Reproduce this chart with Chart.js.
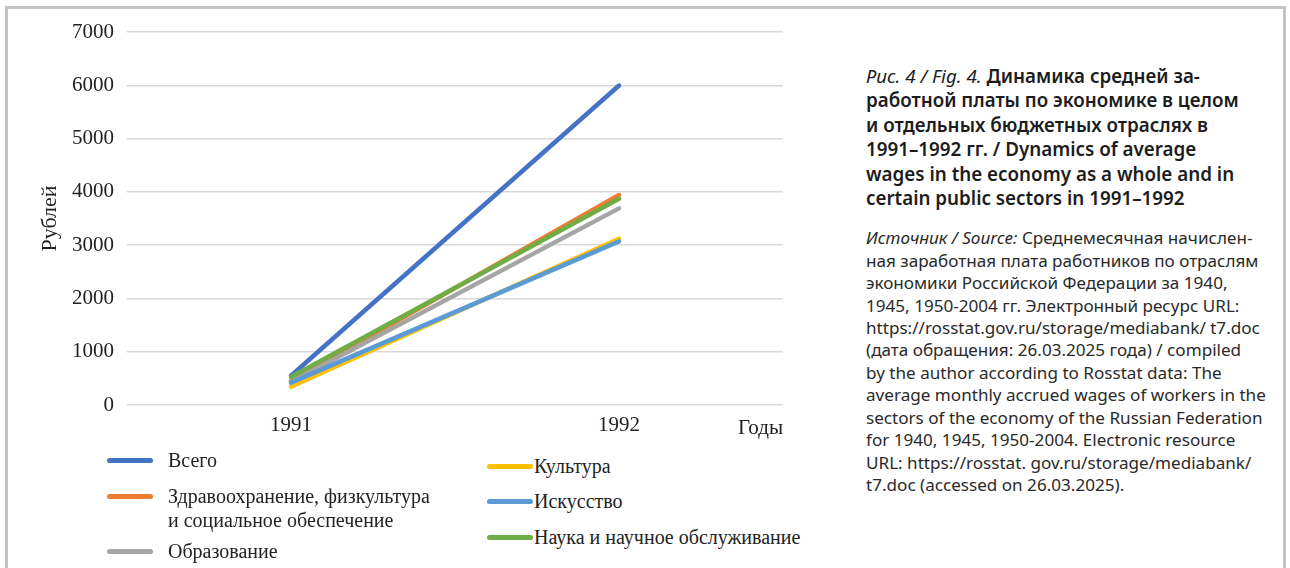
<!DOCTYPE html>
<html>
<head>
<meta charset="utf-8">
<script src="https://cdn.jsdelivr.net/npm/chart.js@4"></script>
<style>
  html,body{margin:0;padding:0;background:#fff;width:1290px;height:568px;overflow:hidden}
  #frame{position:absolute;left:5px;top:6px;width:1281px;height:600px;border:3px solid #c3c3c3;box-sizing:border-box}
  #wrap{position:absolute;left:0;top:0;width:800px;height:450px}
  .leg{position:absolute;font-family:"Liberation Serif",serif;font-size:20px;color:#222;line-height:24px}
  .leg i{position:absolute;left:0;top:10px;width:46px;height:5px;border-radius:3px}
  .leg span{position:absolute;white-space:pre;}
  #cap{position:absolute;left:866px;top:64px;width:420px;font-family:"Noto Sans",sans-serif;color:#1c1c1c}
  #cap .t{font-size:18.8px;font-weight:600;line-height:24.4px}
  #cap .t em{font-weight:400}
  #cap .s{margin-top:17px;font-size:17.1px;line-height:22.4px;color:#2a2a2a}
</style>
</head>
<body>
<div id="frame"></div>
<div id="wrap"><canvas id="c"></canvas></div>
<div id="legend"></div>
<div id="cap">
  <div class="t"><em>Рис. 4 / Fig. 4.</em> Динамика средней за-<br>работной платы по экономике в целом<br>и отдельных бюджетных отраслях в<br>1991–1992 гг. / Dynamics of average<br>wages in the economy as a whole and in<br>certain public sectors in 1991–1992</div>
  <div class="s"><em>Источник / Source:</em> Среднемесячная начислен-<br>ная заработная плата работников по отраслям<br>экономики Российской Федерации за 1940,<br>1945, 1950-2004 гг. Электронный ресурс URL:<br>https://rosstat.gov.ru/storage/mediabank/ t7.doc<br>(дата обращения: 26.03.2025 года) / compiled<br>by the author according to Rosstat data: The<br>average monthly accrued wages of workers in the<br>sectors of the economy of the Russian Federation<br>for 1940, 1945, 1950-2004. Electronic resource<br>URL: https://rosstat. gov.ru/storage/mediabank/<br>t7.doc (accessed on 26.03.2025).</div>
</div>
<script>
const years = ['1991', '1992'];
const names = ['Всего', 'Здравоохранение, физкультура\nи социальное обеспечение', 'Образование', 'Культура', 'Искусство', 'Наука и научное обслуживание'];
const vsego = [548, 5995];
const zdrav = [450, 3940];
const obraz = [430, 3690];
const kultura = [345, 3120];
const iskusstvo = [420, 3070];
const nauka = [525, 3870];
const colors = ['#4472C4', '#ED7D31', '#A5A5A5', '#FFC000', '#5B9BD5', '#70AD47'];

const series = [vsego, zdrav, obraz, kultura, iskusstvo, nauka];
const serif = '"Liberation Serif", "Times New Roman", serif';

const chart = new Chart(document.getElementById('c'), {
  type: 'line',
  data: {
    labels: years,
    datasets: series.map((d, i) => ({
      label: names[i].replace('\n', ' '), data: d, borderColor: colors[i], backgroundColor: colors[i],
      borderWidth: 4.5, pointRadius: 0, borderCapStyle: 'round', order: series.length - i
    }))
  },
  options: {
    responsive: true, maintainAspectRatio: false, animation: false,
    layout: { padding: { left: 37, top: 32, right: 17, bottom: 0 } },
    plugins: { legend: { display: false }, tooltip: { enabled: false } },
    scales: {
      x: {
        offset: true,
        grid: { display: false }, border: { display: false },
        ticks: { color: '#222', font: { family: serif, size: 21 }, padding: 0 },
        title: { display: true, text: 'Годы', align: 'end', color: '#222', font: { family: serif, size: 21 }, padding: { top: 0, bottom: 9 } },
        afterFit: s => { s.height = 45; }
      },
      y: {
        min: 0, max: 7000,
        grid: { color: '#d9d9d9', lineWidth: 1.5, drawTicks: false }, border: { display: false },
        ticks: { stepSize: 1000, color: '#222', font: { family: serif, size: 21 }, padding: 13, callback: v => String(v) },
        title: { display: true, text: 'Рублей', color: '#222', font: { family: serif, size: 22 }, padding: 0 },
        afterFit: s => { s.width = 90; }
      }
    }
  }
});

// legend in two columns like the original
const legCols = [[0, 1, 2], [3, 4, 5]];
const legX = [107, 487], legTextDx = [61, 47], legTop = [[448, 484, 539], [454, 489, 525]];
const lg = document.getElementById('legend');
legCols.forEach((col, c) => col.forEach((idx, k) => {
  const el = document.createElement('div');
  el.className = 'leg';
  el.style.left = legX[c] + 'px';
  el.style.top = legTop[c][k] + 'px';
  el.innerHTML = `<i style="background:${colors[idx]}"></i><span style="left:${legTextDx[c]}px">${names[idx]}</span>`;
  lg.appendChild(el);
}));
</script>
</body>
</html>
